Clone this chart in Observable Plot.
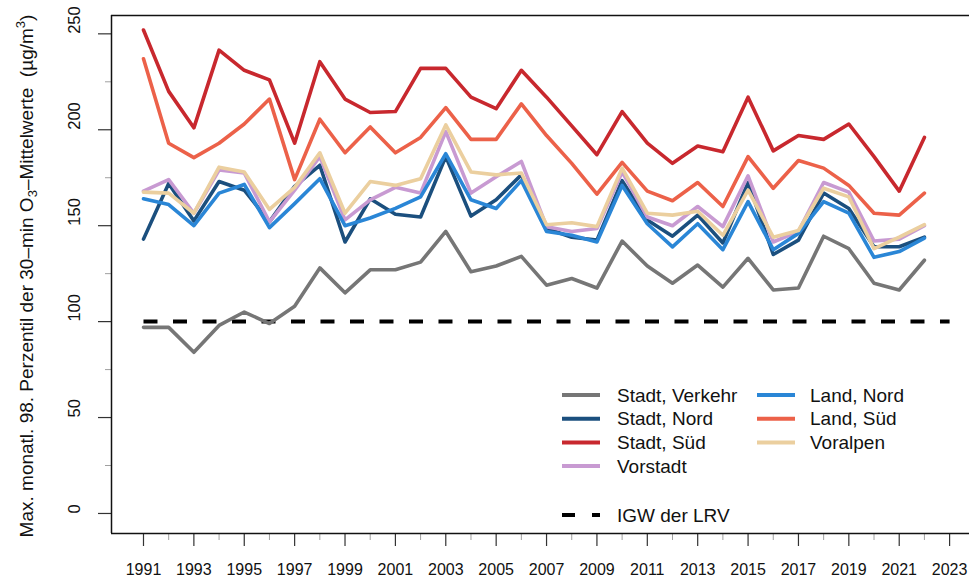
<!DOCTYPE html>
<html><head><meta charset="utf-8">
<script src="https://cdn.jsdelivr.net/npm/d3@7"></script>
<script src="https://cdn.jsdelivr.net/npm/@observablehq/plot@0.6"></script>
<style>
body{margin:0;background:#fff;}
#chart{position:relative;width:969px;height:581px;overflow:hidden;}
</style>
</head><body><div id="chart"></div>
<script>
const years = [1991,1992,1993,1994,1995,1996,1997,1998,1999,2000,2001,2002,2003,2004,2005,2006,2007,2008,2009,2010,2011,2012,2013,2014,2015,2016,2017,2018,2019,2020,2021,2022];
const seriesNames = ["Stadt, Verkehr","Stadt, Nord","Stadt, Süd","Vorstadt","Land, Nord","Land, Süd","Voralpen"];
const seriesColors = ["#767676","#1b4f7e","#c8282e","#c89ad2","#2a86d6","#ec6149","#ebcf9f"];
const stadtVerkehr = [97,97,84,98,105,99,108,128,115,127,127,131,147,126,129,134,119,122.5,117.5,142,129,120,129.5,118,133,116.5,117.5,144.5,138,120,116.5,132];
const stadtNord = [143,172,152.5,173,168.5,152,170.5,181.5,141.5,164,156,154.5,186,155,163.5,176.5,148.5,144,142.5,173.5,153,144.5,155.5,141,172.5,135,142.5,167,159,139,139,144];
const stadtSued = [252,220,201,241.5,231,226,193,235.5,216,209,209.5,232,232,217,211,231,217,202,187,209.5,193,182.5,191.5,188.5,217,189,197,195,203,186,168,196];
const vorstadt = [168,174,156.5,179,177.5,152,168.5,186,153,163.5,170,167,199,167,175.5,183.5,149.5,147,148.5,178,154.5,150,160,149.5,176,141.5,147,172.5,167.5,142,143,150];
const landNord = [164,161,150,167,171.5,149,161.5,174.5,150,154,159,165,187.5,163.5,159,173.5,147,145,141.5,171,151,139,151,137.5,162.5,137.5,146,162.5,156.5,133.5,136.5,143.5];
const landSued = [237,193,185.5,193,203,216,174,205.5,188,201.5,188,196,211.5,195,195,213.5,197,182.5,166.5,183,168,163,172.5,160,186,169.5,184,180,171,156.5,155.5,167];
const voralpen = [167.5,167,156.5,180.5,178,158.5,170,188,156.5,173,171,174.5,202.5,178,176.5,177.5,150.5,151.5,149.5,180,156.5,155.5,157.5,145,168.5,144,147.5,169.5,165,138,144,150.5];
const seriesValues = [stadtVerkehr, stadtNord, stadtSued, vorstadt, landNord, landSued, voralpen];
const limitYears = [1991, 2023];
const limitValues = [100, 100];
const limitLabel = "IGW der LRV";
const yMajorTicks = [0,50,100,150,200,250];
const yMinorTicks = [25,75,125,175,225];
const xMajorTicks = [1991,1993,1995,1997,1999,2001,2003,2005,2007,2009,2011,2013,2015,2017,2019,2021,2023];
const xMinorTicks = [1992,1994,1996,1998,2000,2002,2004,2006,2008,2010,2012,2014,2016,2018,2020,2022];

const rows = seriesNames.flatMap((name, i) => years.map((year, j) => ({name, year, value: seriesValues[i][j]})));
const limitRows = limitYears.map((year, j) => ({year, value: limitValues[j]}));
const xDomain = [1989.73, 2023.79];
const yDomain = [-10.44, 259.56];

const plot = Plot.plot({
  width: 969, height: 581,
  marginLeft: 111, marginRight: 0, marginTop: 15, marginBottom: 48,
  x: {domain: xDomain, label: null},
  y: {domain: yDomain, label: null},
  color: {domain: seriesNames, range: seriesColors},
  style: {fontFamily: "'Liberation Sans', Arial, sans-serif", color: "#000", background: "#fff"},
  marks: [
    Plot.axisY({ticks: yMinorTicks, tickSize: 6, text: null, label: null, stroke: "#a0a0a0", strokeWidth: 1}),
    Plot.axisY({ticks: yMajorTicks, tickSize: 13, text: null, label: null, stroke: "#333", strokeWidth: 1.2}),
    Plot.text(yMajorTicks, {y: d => d, text: d => String(d), frameAnchor: "left", dx: -37, rotate: -90, fontSize: 16.5, fill: "#111"}),
    Plot.axisX({ticks: xMinorTicks, tickSize: 7, text: null, label: null, stroke: "#a0a0a0", strokeWidth: 1}),
    Plot.axisX({ticks: xMajorTicks, tickSize: 13, tickPadding: 17, label: null, tickFormat: d => String(d), fontSize: 16, stroke: "#333", fill: "#111", strokeWidth: 1.2}),
    Plot.ruleX([xDomain[0]], {stroke: "#111", strokeWidth: 1.5}),
    Plot.ruleY(yDomain, {stroke: "#111", strokeWidth: 1.5}),
    Plot.line(limitRows, {x: "year", y: "value", stroke: "#000", strokeWidth: 4, strokeDasharray: "14,15.5", strokeLinecap: "butt"}),
    Plot.line(rows, {x: "year", y: "value", z: "name", stroke: "name", strokeWidth: 3.6})
  ]
});
document.getElementById("chart").appendChild(plot);

const svg = d3.select(plot);
// y-axis title
const title = svg.append("text")
  .attr("transform", "translate(26,276) rotate(-90)")
  .attr("text-anchor", "middle")
  .attr("dy", "0.35em")
  .style("font-size", "19px")
  .style("white-space", "pre")
  .attr("fill", "#111");
title.append("tspan").text("Max. monatl. 98. Perzentil der 30\u2013min O");
title.append("tspan").attr("dy", 4).style("font-size", "13px").text("3");
title.append("tspan").attr("dy", -4).text("\u2013Mittelwerte  (\u00b5g/m");
title.append("tspan").attr("dy", -8).style("font-size", "13px").text("3");
title.append("tspan").attr("dy", 8).text(")");

// legend
const legendColX = [562, 757];
const legendTextOffset = [55, 53];
const legendRowY0 = 395, legendRowStep = 23.7;
const lg = svg.append("g").style("font-size", "19px").attr("text-anchor", "start");
seriesNames.forEach((name, i) => {
  const col = i < 4 ? 0 : 1;
  const row = i < 4 ? i : i - 4;
  const x0 = legendColX[col];
  const y0 = legendRowY0 + row * legendRowStep;
  lg.append("line").attr("x1", x0).attr("x2", x0 + 38).attr("y1", y0).attr("y2", y0)
    .attr("stroke", seriesColors[i]).attr("stroke-width", 4);
  lg.append("text").attr("x", x0 + legendTextOffset[col]).attr("y", y0).attr("dy", "0.35em")
    .attr("text-anchor", "start").attr("fill", "#111").text(name);
});
lg.append("line").attr("x1", legendColX[0]).attr("x2", legendColX[0] + 38).attr("y1", 515).attr("y2", 515)
  .attr("stroke", "#000").attr("stroke-width", 4).attr("stroke-dasharray", "13,17");
lg.append("text").attr("x", legendColX[0] + legendTextOffset[0]).attr("y", 515).attr("dy", "0.35em")
  .attr("text-anchor", "start").attr("fill", "#111").text(limitLabel);
</script>
</body></html>
